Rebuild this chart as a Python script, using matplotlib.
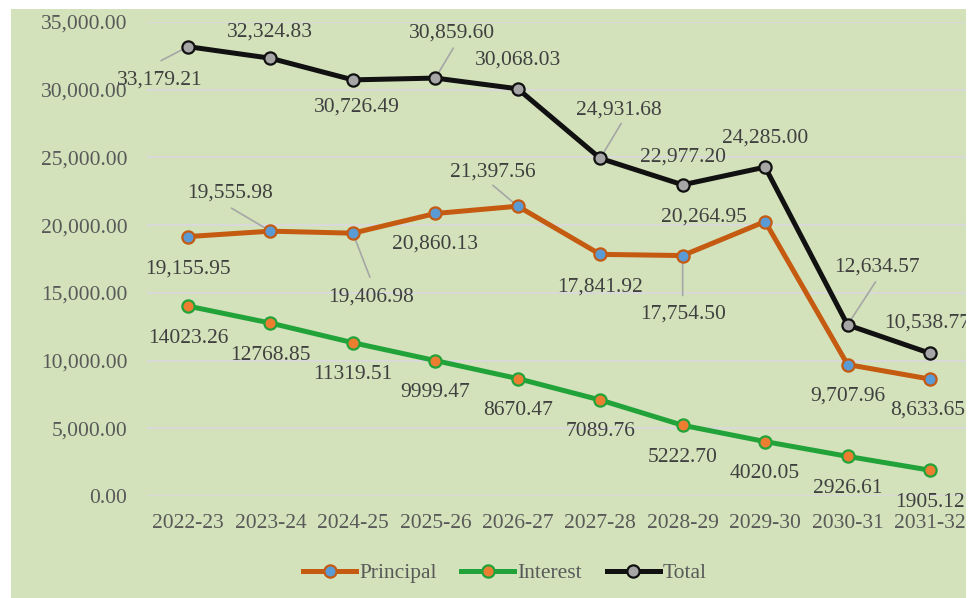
import numpy as np
import matplotlib
matplotlib.use('agg')
import matplotlib.pyplot as plt
from matplotlib.patches import Rectangle

years = ['2022-23', '2023-24', '2024-25', '2025-26', '2026-27',
         '2027-28', '2028-29', '2029-30', '2030-31', '2031-32']
principal = [19155.95, 19555.98, 19406.98, 20860.13, 21397.56,
             17841.92, 17754.50, 20264.95, 9707.96, 8633.65]
interest = [14023.26, 12768.85, 11319.51, 9999.47, 8670.47,
            7089.76, 5222.70, 4020.05, 2926.61, 1905.12]
total = [33179.21, 32324.83, 30726.49, 30859.60, 30068.03,
         24931.68, 22977.20, 24285.00, 12634.57, 10538.77]

# label offsets in pixels (dx right, dy down)
total_off = [(-28, 33), (-1, -26), (4, 27), (17, -45), (0, -29),
             (19, -48), (0, -28), (0, -29), (29, -58), (-3, -30)]
princ_off = [(0, 32), (-40, -38), (18, 64), (0, 31), (-25, -34),
             (0, 33), (0, 58), (-61, -5), (0, 32), (-2, 31)]
int_off = [(0, 32)] * 10
# leader line start points (pixels from point), None = no leader
total_lead = [(-27, 14), None, None, (18, -30), None,
              (21, -35), None, None, (28, -43), None]
princ_lead = [None, (-39, -23), (17, 44), None, (-25, -21),
              None, (0, 40), None, None, None]

bg = '#d3e2ba'
lblcol = '#404040'
tickcol = '#595959'
plt.rcParams['font.family'] = ['Liberation Serif', 'DejaVu Serif']

fig = plt.figure(figsize=(9.74, 5.98), dpi=100, facecolor=bg)
W, H = 974., 598.
ax = fig.add_axes([146.8/W, (H-496)/H, 824.4/W, 474/H])
ax.set_facecolor('none')

x = np.arange(len(years))
series = [
    ('Principal', principal, '#c55a11', '#5b9bd5', princ_off, princ_lead, lambda v: '{:,.2f}'.format(v)),
    ('Interest', interest, '#22a33a', '#ed7d31', int_off, [None]*10, lambda v: '{:.2f}'.format(v)),
    ('Total', total, '#111111', '#a6a6a6', total_off, total_lead, lambda v: '{:,.2f}'.format(v)),
]
for name, vals, lc, mc, offs, leads, fmt in series:
    ax.plot(x, vals, color=lc, lw=3.6, marker='o', ms=8.8, mfc=mc, mec=lc,
            mew=1.6, label=name, zorder=3, clip_on=False)
    for i, v in enumerate(vals):
        dx, dy = offs[i]
        ax.annotate(fmt(v), (x[i], v), xytext=(dx, -dy), textcoords='offset pixels',
                    ha='center', va='center', fontsize=15.5, color=lblcol,
                    zorder=4, annotation_clip=False)
        if leads[i] is not None:
            lx, ly = leads[i]
            ax.annotate('', (x[i], v), xytext=(lx, -ly), textcoords='offset pixels',
                        arrowprops=dict(arrowstyle='-', color='#a6a6a6', lw=1.2,
                                        shrinkA=0, shrinkB=0),
                        zorder=2, annotation_clip=False)

ax.set_xlim(-0.5, 9.5)
ax.set_ylim(0, 35000)
ax.set_yticks(np.arange(0, 35001, 5000))
ax.yaxis.set_major_formatter(matplotlib.ticker.FuncFormatter(lambda v, p: '{:,.2f}'.format(v)))
ax.set_xticks(x)
ax.set_xticklabels(years)
ax.tick_params(axis='both', length=0, labelsize=15.5, labelcolor=tickcol)
ax.tick_params(axis='x', pad=13)
ax.tick_params(axis='y', pad=14)
ax.grid(axis='y', color='#d9d9d9', lw=1.5, zorder=1)
ax.set_axisbelow(True)
for s in ax.spines.values():
    s.set_visible(False)

leg = fig.legend(loc='center', bbox_to_anchor=(505/W, (H-573)/H), ncol=3,
                 frameon=False, fontsize=15.5, handlelength=2.45,
                 handletextpad=0.15, columnspacing=1.15)
for t in leg.get_texts():
    t.set_color(tickcol)

# white margins around the chart area
for rx, ry, rw, rh in [(0, 0, 11, H), (966, 0, W-966, H), (0, H-9, W, 9)]:
    fig.patches.append(Rectangle((rx/W, ry/H), rw/W, rh/H, transform=fig.transFigure,
                                 facecolor='white', edgecolor='none', zorder=10))

fig.savefig('out.png', dpi=100, facecolor=bg)
